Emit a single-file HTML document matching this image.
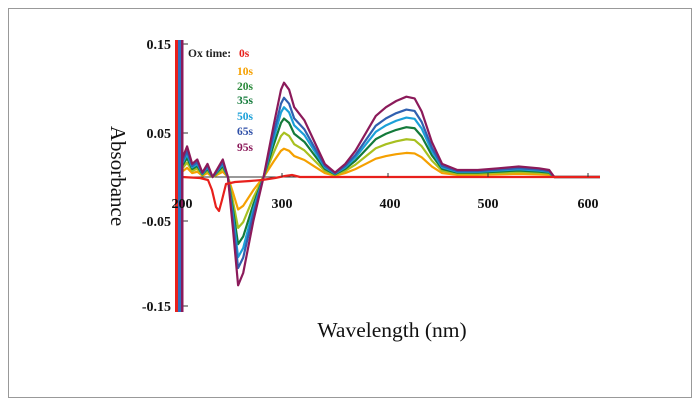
<!DOCTYPE html>
<html><head><style>
body{margin:0;background:#fff;}
svg{display:block;}
text{font-family:"Liberation Serif",serif;}
</style></head><body>
<svg width="700" height="406" viewBox="0 0 700 406" xmlns="http://www.w3.org/2000/svg">
<rect x="8.5" y="8.5" width="683" height="389" fill="#fff" stroke="#999" stroke-width="1"/>
<defs>
<path id="c" d="M182,159.5 L187.1,146.4 L192.2,163.9 L197.3,159.5 L202.4,172.6 L207.5,163.9 L212.6,177 L217.7,168.3 L222.8,159.5 L227.9,177 L233,229.4 L238.1,285.3 L243.2,273 L253.4,220.7 L263.6,177 L273.8,124.6 L281,89.7 L284,82.7 L289.1,89.7 L294.2,107.2 L304.4,120.3 L314.6,142.1 L324.8,163.9 L335,172.6 L345.2,163.9 L355.4,150.8 L365.6,133.4 L375.8,115.9 L386,107.2 L396.2,101 L406.4,96.7 L414.6,98.4 L421.7,111.5 L431.9,142.1 L442.1,163.9 L457.4,170 L477.8,170 L498.2,168.3 L518.6,166.5 L539,168.3 L549.2,170 L554.3,177 L600,177" fill="none" vector-effect="non-scaling-stroke"/>
</defs>
<line x1="182" y1="177" x2="600" y2="177" stroke="#333" stroke-width="1"/>
<g stroke-width="2.2" fill="none" stroke-linejoin="round">
<use href="#c" stroke="#f5a000" transform="translate(0,177) scale(1,0.3) translate(0,-177)"/>
<use href="#c" stroke="#a8c020" transform="translate(0,177) scale(1,0.47) translate(0,-177)"/>
<use href="#c" stroke="#137a3a" transform="translate(0,177) scale(1,0.62) translate(0,-177)"/>
<use href="#c" stroke="#1ba0d8" transform="translate(0,177) scale(1,0.74) translate(0,-177)"/>
<use href="#c" stroke="#3060b0" transform="translate(0,177) scale(1,0.84) translate(0,-177)"/>
<use href="#c" stroke="#8b1a5a"/>
<path d="M182,177 L200,178 L208,180 L212,190 L216,207 L219,211 L222,200 L226,184 L235,182 L250,181 L262,180 L275,178 L285,176 L292,175 L300,177 L600,177" stroke="#e8201c"/>
</g>
<g stroke="#333" stroke-width="1">
<line x1="282" y1="177" x2="282" y2="173"/><line x1="388" y1="177" x2="388" y2="173"/>
<line x1="488" y1="177" x2="488" y2="173"/><line x1="588" y1="177" x2="588" y2="173"/>
<line x1="182" y1="44" x2="188" y2="44"/><line x1="182" y1="133" x2="188" y2="133"/>
<line x1="182" y1="221" x2="188" y2="221"/><line x1="182" y1="306" x2="188" y2="306"/>
</g>
<rect x="175" y="40" width="3" height="272" fill="#e8201c"/>
<rect x="178" y="40" width="3" height="272" fill="#2f6fc0"/>
<rect x="181" y="40" width="2.5" height="272" fill="#8b1a5a"/>
<g font-weight="bold" font-size="14" fill="#111" text-anchor="end">
<text x="171" y="49">0.15</text><text x="171" y="138">0.05</text>
<text x="171" y="226">-0.05</text><text x="171" y="311">-0.15</text>
</g>
<g font-weight="bold" font-size="14" fill="#111" text-anchor="middle">
<text x="182" y="208">200</text><text x="282" y="208">300</text>
<text x="390" y="208">400</text><text x="488" y="208">500</text><text x="588" y="208">600</text>
</g>
<text transform="translate(111,176) rotate(90)" text-anchor="middle" font-size="21" fill="#111">Absorbance</text>
<text x="392" y="337" text-anchor="middle" font-size="21.5" fill="#111">Wavelength (nm)</text>
<g font-weight="bold" font-size="11.5">
<text x="188" y="57" fill="#222">Ox time:</text>
<text x="239" y="57" fill="#e8201c">0s</text>
<text x="237" y="75" fill="#f5a000">10s</text>
<text x="237" y="90" fill="#2a8a3a">20s</text>
<text x="237" y="104" fill="#137a3a">35s</text>
<text x="237" y="120" fill="#1ba0d8">50s</text>
<text x="237" y="135" fill="#3050a8">65s</text>
<text x="237" y="151" fill="#8b1a5a">95s</text>
</g>
</svg>
</body></html>
